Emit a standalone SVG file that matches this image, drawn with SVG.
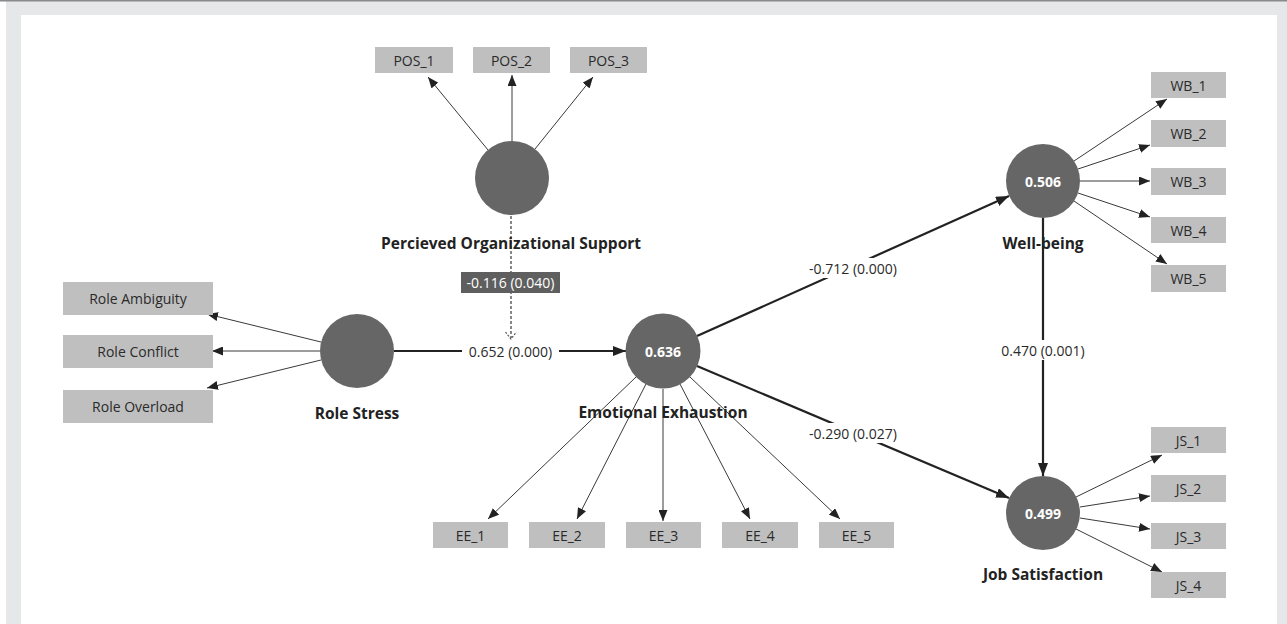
<svg xmlns="http://www.w3.org/2000/svg" width="1287" height="624" viewBox="0 0 1287 624">
<style>
.box{fill:#bfbfbf;}
.lv{fill:#666666;}
.bt{font-family:"Open Sans","Noto Sans",sans-serif;font-size:14px;fill:#2a2a2a;text-anchor:middle;dominant-baseline:central;}
.nl{font-family:"Open Sans","Noto Sans",sans-serif;font-size:15.5px;font-weight:700;fill:#222;text-anchor:middle;dominant-baseline:central;}
.cv{font-family:"Open Sans","Noto Sans",sans-serif;font-size:14px;font-weight:700;fill:#ffffff;text-anchor:middle;dominant-baseline:central;}
.el{font-family:"Open Sans","Noto Sans",sans-serif;font-size:14px;fill:#2a2a2a;text-anchor:middle;dominant-baseline:central;}
.thin{stroke:#3a3a3a;stroke-width:1;fill:none;marker-end:url(#ah);}
.thick{stroke:#222;stroke-width:2.2;fill:none;marker-end:url(#ahb);}
</style>
<defs>
<marker id="ah" markerUnits="userSpaceOnUse" markerWidth="11" markerHeight="9" refX="11" refY="4.5" orient="auto"><path d="M0,0 L11,4.5 L0,9 z" fill="#222"/></marker>
<marker id="ahb" markerUnits="userSpaceOnUse" markerWidth="13" markerHeight="10" refX="13" refY="5" orient="auto"><path d="M0,0 L13,5 L0,10 z" fill="#222"/></marker>
</defs>
<rect x="0" y="0" width="1287" height="624" fill="#e6e7e8"/>
<rect x="0" y="0" width="6" height="624" fill="#ffffff"/>
<rect x="0" y="0" width="1287" height="1.5" fill="#8a8a8a"/>
<rect x="21" y="15" width="1256" height="609" fill="#ffffff"/>

<g id="connectors">
<line class="thin" x1="488" y1="150" x2="428" y2="77"/>
<line class="thin" x1="512" y1="141" x2="512" y2="75"/>
<line class="thin" x1="535" y1="149" x2="593" y2="77"/>
<line class="thin" x1="321" y1="342" x2="207" y2="314"/>
<line class="thin" x1="320" y1="351" x2="212" y2="351"/>
<line class="thin" x1="321" y1="360" x2="207" y2="388"/>
<line class="thin" x1="636" y1="377" x2="488" y2="519"/>
<line class="thin" x1="646" y1="384" x2="577" y2="519"/>
<line class="thin" x1="663" y1="389" x2="663" y2="521"/>
<line class="thin" x1="680" y1="384" x2="750" y2="519"/>
<line class="thin" x1="690" y1="377" x2="840" y2="519"/>
<line class="thin" x1="1074" y1="161" x2="1167" y2="99"/>
<line class="thin" x1="1078" y1="169" x2="1150" y2="145"/>
<line class="thin" x1="1080" y1="181" x2="1150" y2="181"/>
<line class="thin" x1="1078" y1="193" x2="1150" y2="217"/>
<line class="thin" x1="1074" y1="201" x2="1167" y2="264"/>
<line class="thin" x1="1076" y1="497" x2="1162" y2="455"/>
<line class="thin" x1="1080" y1="507" x2="1150" y2="496"/>
<line class="thin" x1="1080" y1="518" x2="1150" y2="529"/>
<line class="thin" x1="1076" y1="529" x2="1162" y2="572"/>
<line class="thick" x1="394" y1="351" x2="626" y2="351"/>
<line class="thick" x1="697" y1="336" x2="1009" y2="196"/>
<line class="thick" x1="697" y1="366" x2="1009" y2="498"/>
<line class="thick" x1="1043" y1="218" x2="1043" y2="476"/>
<line x1="511" y1="216" x2="511" y2="338" stroke="#555" stroke-width="1.4" stroke-dasharray="3,2"/>
<path d="M505.5,332 L511,339 L516.5,332" fill="none" stroke="#555" stroke-width="1.2" stroke-dasharray="2,1.5"/>
<rect x="461" y="272" width="99" height="21" fill="#5f5f5f"/>
<text class="el" x="510.5" y="282.5" style="fill:#ffffff">-0.116 (0.040)</text>
<rect x="462" y="341" width="97" height="20" fill="#ffffff"/>
<text class="el" x="510.5" y="351">0.652 (0.000)</text>
<rect x="803" y="258" width="100" height="20" fill="#ffffff"/>
<text class="el" x="853" y="268">-0.712 (0.000)</text>
<rect x="803" y="423" width="100" height="20" fill="#ffffff"/>
<text class="el" x="853" y="433">-0.290 (0.027)</text>
<rect x="997" y="340" width="92" height="20" fill="#ffffff"/>
<text class="el" x="1043" y="350">0.470 (0.001)</text>
</g>

<g id="pos">
<circle class="lv" cx="512" cy="178" r="37"/>
<text class="nl" x="511" y="243">Percieved Organizational Support</text>
</g>
<g id="pos1"><rect class="box" x="375" y="47" width="78" height="26"/><text class="bt" x="414" y="60">POS_1</text></g>
<g id="pos2"><rect class="box" x="473" y="47" width="77" height="26"/><text class="bt" x="511.5" y="60">POS_2</text></g>
<g id="pos3"><rect class="box" x="570" y="47" width="77" height="26"/><text class="bt" x="608.5" y="60">POS_3</text></g>

<g id="rs">
<circle class="lv" cx="357" cy="351" r="37"/>
<text class="nl" x="357" y="413">Role Stress</text>
</g>
<g id="ra"><rect class="box" x="63" y="282" width="150" height="33"/><text class="bt" x="138" y="298.5">Role Ambiguity</text></g>
<g id="rc"><rect class="box" x="63" y="335" width="150" height="33"/><text class="bt" x="138" y="351.5">Role Conflict</text></g>
<g id="ro"><rect class="box" x="63" y="390" width="150" height="33"/><text class="bt" x="138" y="406.5">Role Overload</text></g>

<g id="ee">
<circle class="lv" cx="663" cy="351" r="37.5"/>
<text class="cv" x="663" y="351">0.636</text>
<text class="nl" x="663" y="412">Emotional Exhaustion</text>
</g>
<g id="ee1"><rect class="box" x="433" y="522" width="75" height="26"/><text class="bt" x="470.5" y="535">EE_1</text></g>
<g id="ee2"><rect class="box" x="529" y="522" width="76" height="26"/><text class="bt" x="567" y="535">EE_2</text></g>
<g id="ee3"><rect class="box" x="626" y="522" width="75" height="26"/><text class="bt" x="663.5" y="535">EE_3</text></g>
<g id="ee4"><rect class="box" x="722" y="522" width="76" height="26"/><text class="bt" x="760" y="535">EE_4</text></g>
<g id="ee5"><rect class="box" x="819" y="522" width="75" height="26"/><text class="bt" x="856.5" y="535">EE_5</text></g>

<g id="wb">
<circle class="lv" cx="1043" cy="181" r="37"/>
<text class="cv" x="1043" y="181">0.506</text>
<text class="nl" x="1043" y="243">Well-being</text>
</g>
<g id="wb1"><rect class="box" x="1151" y="72" width="75" height="26"/><text class="bt" x="1188.5" y="85">WB_1</text></g>
<g id="wb2"><rect class="box" x="1151" y="120" width="75" height="27"/><text class="bt" x="1188.5" y="133.5">WB_2</text></g>
<g id="wb3"><rect class="box" x="1151" y="168" width="75" height="27"/><text class="bt" x="1188.5" y="181.5">WB_3</text></g>
<g id="wb4"><rect class="box" x="1151" y="217" width="75" height="26"/><text class="bt" x="1188.5" y="230">WB_4</text></g>
<g id="wb5"><rect class="box" x="1151" y="265" width="75" height="27"/><text class="bt" x="1188.5" y="278.5">WB_5</text></g>

<g id="js">
<circle class="lv" cx="1043" cy="513" r="37"/>
<text class="cv" x="1043" y="513">0.499</text>
<text class="nl" x="1043" y="574">Job Satisfaction</text>
</g>
<g id="js1"><rect class="box" x="1151" y="427" width="75" height="26"/><text class="bt" x="1188.5" y="440">JS_1</text></g>
<g id="js2"><rect class="box" x="1151" y="475" width="75" height="27"/><text class="bt" x="1188.5" y="488.5">JS_2</text></g>
<g id="js3"><rect class="box" x="1151" y="523" width="75" height="26"/><text class="bt" x="1188.5" y="536">JS_3</text></g>
<g id="js4"><rect class="box" x="1151" y="572" width="75" height="26"/><text class="bt" x="1188.5" y="585">JS_4</text></g>
</svg>
